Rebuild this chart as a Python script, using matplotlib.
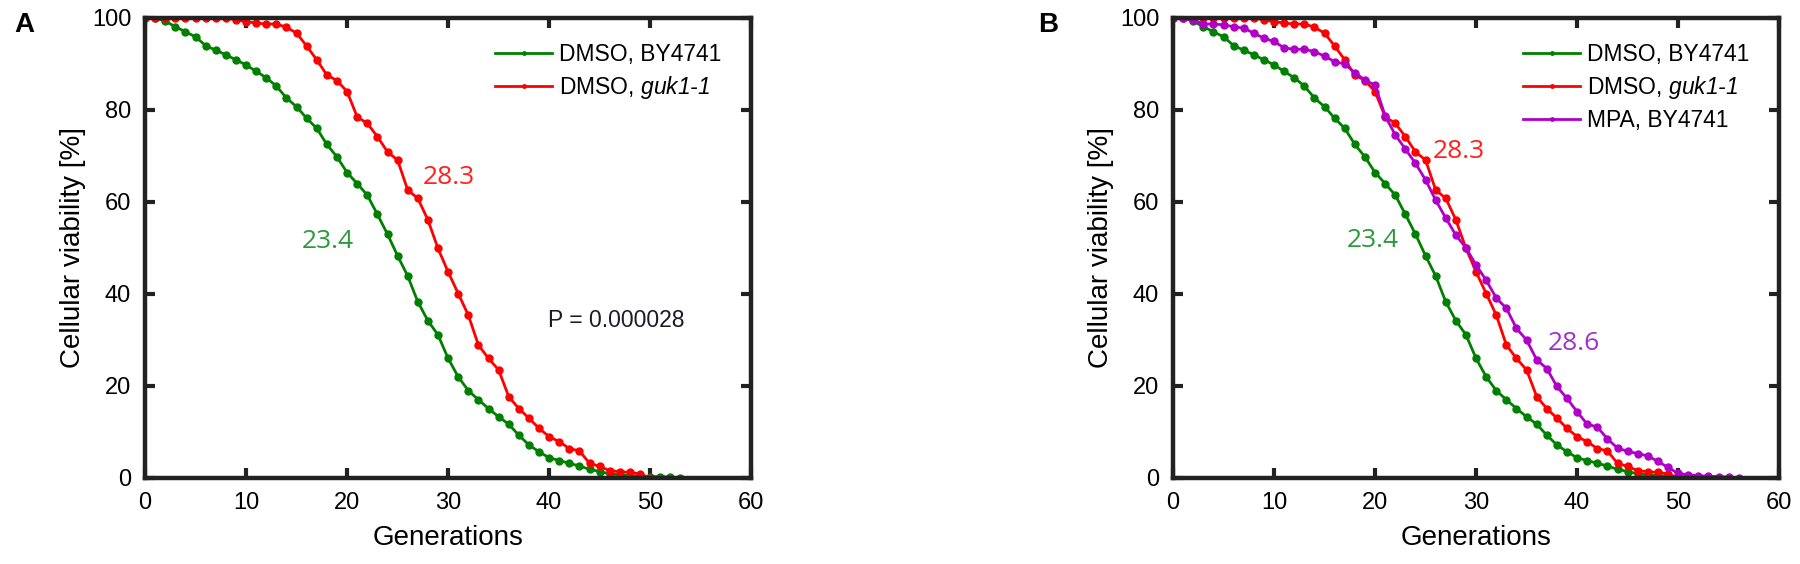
import matplotlib
matplotlib.use("Agg")
from matplotlib import pyplot as plt
from matplotlib import font_manager
import numpy as np

names = {f.name for f in font_manager.fontManager.ttflist}
tick_font = "Liberation Sans Narrow" if "Liberation Sans Narrow" in names else "Liberation Sans"
plt.rcParams['font.family'] = ['Liberation Sans', 'DejaVu Sans']
# only math text in the figure is the italic strain name
plt.rcParams['mathtext.fontset'] = 'custom'
plt.rcParams['mathtext.it'] = 'Liberation Sans:italic'
plt.rcParams['mathtext.rm'] = 'Liberation Sans:italic'

# generations (one point per generation)
gen_dmso_wt = np.arange(0, 54)
gen_dmso_guk = np.arange(0, 51)
gen_mpa_wt = np.arange(0, 57)

# viability [%]
dmso_wt = [100, 100, 99.3, 98.1, 97.0, 95.9, 94.0, 93.0, 92.0, 90.9,
           89.8, 88.4, 87.0, 85.2, 82.6, 80.7, 78.2, 76.0, 72.5, 69.8,
           66.4, 64.0, 61.5, 57.3, 53.0, 48.3, 43.9, 38.3, 34.2, 31.1,
           26.0, 22.0, 19.0, 17.0, 15.1, 13.3, 11.7, 9.3, 7.2, 5.7,
           4.4, 3.8, 3.2, 2.6, 1.9, 1.4, 0.9, 0.7, 0.5, 0.4,
           0.3, 0.3, 0.2, 0.0]
dmso_guk = [100, 100, 100, 100, 100, 100, 100, 100, 100, 99.6,
            99.2, 98.9, 98.7, 98.7, 98.0, 96.7, 93.9, 90.9, 87.6, 86.4,
            84.0, 78.5, 77.1, 74.2, 70.9, 69.1, 62.6, 60.8, 56.1, 49.9,
            44.8, 40.1, 35.4, 28.9, 26.0, 23.5, 17.7, 15.1, 13.0, 10.8,
            9.0, 7.9, 6.4, 5.9, 3.2, 2.5, 1.6, 1.4, 1.2, 0.9,
            0.0]
mpa_wt = [100, 100, 99.6, 98.7, 98.7, 98.5, 98.1, 97.8, 96.7, 95.6,
          94.9, 93.5, 93.2, 93.2, 92.7, 91.7, 90.5, 90.0, 88.1, 86.5,
          85.4, 78.7, 74.6, 71.5, 68.4, 64.8, 60.4, 56.5, 52.8, 50.0,
          46.3, 43.0, 39.1, 36.9, 32.5, 30.0, 25.7, 23.8, 19.9, 17.3,
          14.4, 11.7, 11.1, 8.5, 6.5, 5.8, 5.3, 4.8, 3.6, 2.3,
          1.0, 0.7, 0.5, 0.4, 0.3, 0.2, 0.0]

green = '#008000'
red = '#ff0000'
purple = '#b000c8'

fig = plt.figure(figsize=(18, 5.64), dpi=100)
axA = fig.add_axes([0.0806, 0.1525, 0.3367, 0.8156])
axB = fig.add_axes([0.6517, 0.1525, 0.3367, 0.8156])

def style(ax):
    ax.set_xlim(0, 60)
    ax.set_ylim(0, 100)
    ax.set_xticks(range(0, 61, 10))
    ax.set_yticks(range(0, 101, 20))
    for s in ax.spines.values():
        s.set_linewidth(3.2)
        s.set_color('#222222')
    ax.tick_params(direction='in', length=7, width=3, top=True, right=True,
                   labelsize=17, pad=10, color='#222222')
    for lab in ax.get_xticklabels() + ax.get_yticklabels():
        lab.set_fontfamily(tick_font)
    ax.set_xlabel('Generations', fontsize=20, labelpad=8)
    ax.set_ylabel('Cellular viability [%]', fontsize=20, labelpad=4)

lw = 2.0
ms = 5
for ax in (axA, axB):
    ax.plot(gen_dmso_wt, dmso_wt, '-o', color=green, lw=lw, ms=ms, label='DMSO, BY4741')
    ax.plot(gen_dmso_guk, dmso_guk, '-o', color=red, lw=lw, ms=ms,
            label='DMSO, $\\mathrm{guk1\\text{-}1}$')
axB.plot(gen_mpa_wt, mpa_wt, '-o', color=purple, lw=lw, ms=ms, label='MPA, BY4741')

for ax in (axA, axB):
    style(ax)
    ax.legend(loc='upper right', frameon=False, fontsize=16.5, numpoints=1,
              markerscale=0.5, handlelength=2.5, handletextpad=0.3,
              labelspacing=0.35, bbox_to_anchor=(0.985, 0.99), borderaxespad=0.5)

num_font = ['Open Sans', 'DejaVu Sans']
axA.text(30.1, 65.4, '28.3', color='#ff2020', fontsize=19, ha='center', va='center', family=num_font)
axA.text(18.1, 51.5, '23.4', color='#2a9a3a', fontsize=19, ha='center', va='center', family=num_font)
axA.text(39.9, 34.3, 'P = 0.000028', color='#1a1a2a', fontsize=16.5, ha='left', va='center')
axB.text(28.3, 70.9, '28.3', color='#ff2020', fontsize=19, ha='center', va='center', family=num_font)
axB.text(19.8, 51.7, '23.4', color='#2a9a3a', fontsize=19, ha='center', va='center', family=num_font)
axB.text(39.7, 29.3, '28.6', color='#a030d0', fontsize=19, ha='center', va='center', family=num_font)

fig.text(0.0078, 0.955, 'A', fontsize=20, fontweight='bold', va='center')
fig.text(0.577, 0.955, 'B', fontsize=20, fontweight='bold', va='center')

fig.savefig('out.png', dpi=100)
